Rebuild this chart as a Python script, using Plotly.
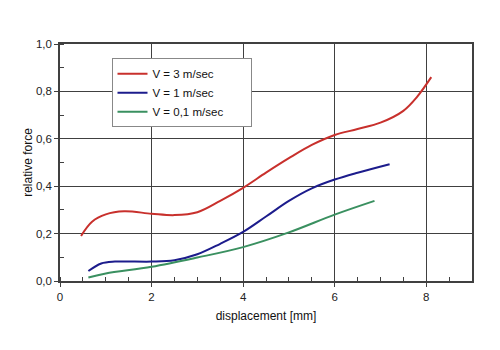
import plotly.graph_objects as go

# Data
x_v3 = [0.46, 0.7, 1.0, 1.4, 2.0, 2.5, 3.0, 3.5, 4.0, 4.5, 5.0, 5.5, 6.0, 6.5, 7.0, 7.5, 7.8, 8.11]
y_v3 = [0.19, 0.25, 0.281, 0.294, 0.284, 0.278, 0.29, 0.338, 0.393, 0.457, 0.518, 0.574, 0.616, 0.641, 0.668, 0.718, 0.777, 0.86]

x_v1 = [0.62, 0.9, 1.2, 2.0, 2.5, 3.0, 3.5, 4.0, 4.5, 5.0, 5.5, 6.0, 6.5, 7.2]
y_v1 = [0.042, 0.074, 0.082, 0.082, 0.088, 0.113, 0.157, 0.207, 0.272, 0.338, 0.391, 0.428, 0.457, 0.493]

x_v01 = [0.62, 1.0, 2.0, 3.0, 4.0, 5.0, 6.0, 6.87]
y_v01 = [0.015, 0.032, 0.06, 0.099, 0.143, 0.205, 0.28, 0.338]

names = ["V = 3 m/sec", "V = 1 m/sec", "V = 0,1 m/sec"]
colors = ["#c8302c", "#1c1c8c", "#3a9060"]

y_tickvals = [0, 0.2, 0.4, 0.6, 0.8, 1.0]
y_ticktext = ["0,0", "0,2", "0,4", "0,6", "0,8", "1,0"]
x_tickvals = [0, 2, 4, 6, 8]
x_ticktext = ["0", "2", "4", "6", "8"]

pad = "\u00a0" * 7

fig = go.Figure()
for xs, ys, n, c in zip([x_v3, x_v1, x_v01], [y_v3, y_v1, y_v01], names, colors):
    fig.add_trace(go.Scatter(x=xs, y=ys, name=n + pad, mode="lines",
                             line=dict(color=c, width=2, shape="spline", smoothing=1.0)))

axis_col = "#404040"
fig.update_layout(
    width=500, height=350,
    margin=dict(l=60, r=28, t=44, b=69),
    paper_bgcolor="white", plot_bgcolor="white",
    font=dict(family="Liberation Sans, Arial, sans-serif", size=11, color="#222"),
    showlegend=True,
    legend=dict(x=0.125, y=0.94, xanchor="left", yanchor="top",
                bgcolor="white", bordercolor="#888", borderwidth=1,
                font=dict(size=11.5, color="#111"), itemwidth=30, tracegroupgap=0),
)
fig.update_xaxes(range=[0, 9], tickvals=x_tickvals, ticktext=x_ticktext,
                 showgrid=True, gridcolor=axis_col, gridwidth=1,
                 showline=True, linecolor=axis_col, linewidth=1.5, mirror=True,
                 ticks="outside", ticklen=4, tickcolor=axis_col,
                 tickfont=dict(size=11.5),
                 minor=dict(dtick=0.5, ticks="inside", ticklen=4, tickcolor=axis_col, showgrid=False),
                 zeroline=False,
                 title=dict(text="displacement [mm]", font=dict(size=12, color="#111"), standoff=10))
fig.update_yaxes(range=[0, 1.0], tickvals=y_tickvals, ticktext=y_ticktext,
                 showgrid=True, gridcolor=axis_col, gridwidth=1,
                 showline=True, linecolor=axis_col, linewidth=1.5, mirror=True,
                 ticks="outside", ticklen=4, tickcolor=axis_col,
                 tickfont=dict(size=11.5),
                 minor=dict(dtick=0.1, ticks="inside", ticklen=4, tickcolor=axis_col, showgrid=False),
                 zeroline=False,
                 title=dict(text="relative force", font=dict(size=12, color="#111"), standoff=1))

fig.write_html("out.html")
